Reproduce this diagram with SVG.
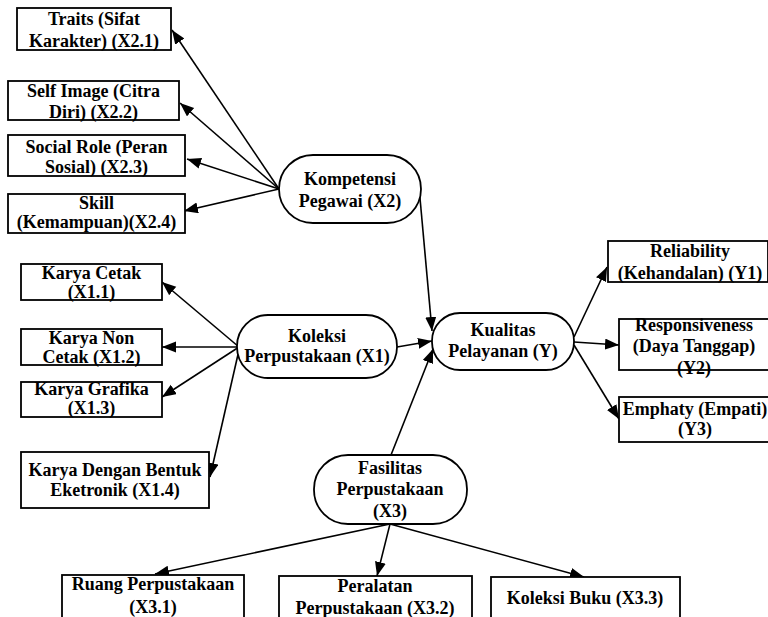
<svg xmlns="http://www.w3.org/2000/svg" width="768" height="617" viewBox="0 0 768 617">
  <defs>
    <marker id="arrow" markerUnits="userSpaceOnUse" markerWidth="15" markerHeight="12" refX="14" refY="5.5" orient="auto">
      <path d="M0,0 L14,5.5 L0,11 z" fill="#000"/>
    </marker>
    <style>
      .box { fill: #fff; stroke: #000; stroke-width: 1.8; }
      .lbl { font-family: "Liberation Serif", "Times New Roman", serif; font-weight: bold; font-size: 18px; fill: #000; text-anchor: middle; }
      .edge { stroke: #000; stroke-width: 1.6; fill: none; marker-end: url(#arrow); }
    </style>
  </defs>
  <rect width="768" height="617" fill="#fff"/>

  <g id="connectors">
    <!-- Kompetensi Pegawai (X2) indicators -->
    <line class="edge" x1="279" y1="189" x2="172" y2="30"/>
    <line class="edge" x1="279" y1="189" x2="180" y2="103"/>
    <line class="edge" x1="279" y1="189" x2="187" y2="159"/>
    <line class="edge" x1="279" y1="189" x2="184" y2="211"/>
    <!-- Koleksi Perpustakaan (X1) indicators -->
    <line class="edge" x1="239" y1="347" x2="162" y2="282"/>
    <line class="edge" x1="239" y1="347" x2="162" y2="347"/>
    <line class="edge" x1="239" y1="347" x2="162" y2="397"/>
    <line class="edge" x1="239" y1="350" x2="210" y2="477"/>
    <!-- paths into Kualitas Pelayanan (Y) -->
    <line class="edge" x1="419" y1="187" x2="432" y2="331"/>
    <line class="edge" x1="397" y1="347" x2="432" y2="341"/>
    <line class="edge" x1="391" y1="455" x2="433" y2="349"/>
    <!-- Kualitas Pelayanan (Y) indicators -->
    <line class="edge" x1="574" y1="337" x2="607" y2="267"/>
    <line class="edge" x1="574" y1="342" x2="619" y2="345"/>
    <line class="edge" x1="574" y1="345" x2="619" y2="419"/>
    <!-- Fasilitas Perpustakaan (X3) indicators -->
    <line class="edge" x1="390" y1="524" x2="155" y2="574"/>
    <line class="edge" x1="390" y1="524" x2="377" y2="576"/>
    <line class="edge" x1="390" y1="524" x2="584" y2="577"/>
  </g>

  <g id="x2-1">
    <rect class="box" x="17" y="8" width="154" height="42"/>
    <text class="lbl" x="94" y="25">Traits (Sifat</text>
    <text class="lbl" x="94" y="47">Karakter) (X2.1)</text>
  </g>
  <g id="x2-2">
    <rect class="box" x="8" y="81" width="171" height="39"/>
    <text class="lbl" x="93.5" y="97">Self Image (Citra</text>
    <text class="lbl" x="93.5" y="118">Diri) (X2.2)</text>
  </g>
  <g id="x2-3">
    <rect class="box" x="8" y="135" width="177" height="41"/>
    <text class="lbl" x="96.5" y="153">Social Role (Peran</text>
    <text class="lbl" x="96.5" y="173">Sosial) (X2.3)</text>
  </g>
  <g id="x2-4">
    <rect class="box" x="8" y="194" width="177" height="39"/>
    <text class="lbl" x="96.5" y="209">Skill</text>
    <text class="lbl" x="96.5" y="228">(Kemampuan)(X2.4)</text>
  </g>

  <g id="x1-1">
    <rect class="box" x="21" y="264" width="141" height="36"/>
    <text class="lbl" x="91.5" y="279">Karya Cetak</text>
    <text class="lbl" x="91.5" y="298">(X1.1)</text>
  </g>
  <g id="x1-2">
    <rect class="box" x="21" y="329" width="141" height="36"/>
    <text class="lbl" x="91.5" y="344">Karya Non</text>
    <text class="lbl" x="91.5" y="363">Cetak (X1.2)</text>
  </g>
  <g id="x1-3">
    <rect class="box" x="21" y="382" width="141" height="35"/>
    <text class="lbl" x="91.5" y="395">Karya Grafika</text>
    <text class="lbl" x="91.5" y="414">(X1.3)</text>
  </g>
  <g id="x1-4">
    <rect class="box" x="21" y="452" width="188" height="56"/>
    <text class="lbl" x="115" y="476">Karya Dengan Bentuk</text>
    <text class="lbl" x="115" y="496">Eketronik (X1.4)</text>
  </g>

  <g id="x2">
    <rect class="box" x="279" y="155" width="142" height="68" rx="34" ry="34"/>
    <text class="lbl" x="350" y="185">Kompetensi</text>
    <text class="lbl" x="350" y="207">Pegawai (X2)</text>
  </g>
  <g id="x1">
    <rect class="box" x="237" y="315" width="160" height="63" rx="31" ry="31"/>
    <text class="lbl" x="317" y="342">Koleksi</text>
    <text class="lbl" x="317" y="362">Perpustakaan (X1)</text>
  </g>
  <g id="y">
    <rect class="box" x="432" y="313" width="142" height="57" rx="28" ry="28"/>
    <text class="lbl" x="503" y="336">Kualitas</text>
    <text class="lbl" x="503" y="357">Pelayanan (Y)</text>
  </g>
  <g id="x3">
    <rect class="box" x="314" y="455" width="153" height="69" rx="34" ry="34"/>
    <text class="lbl" x="390" y="474">Fasilitas</text>
    <text class="lbl" x="390" y="495">Perpustakaan</text>
    <text class="lbl" x="390" y="517">(X3)</text>
  </g>

  <g id="y1">
    <rect class="box" x="608" y="241" width="160" height="41"/>
    <text class="lbl" x="690" y="257">Reliability</text>
    <text class="lbl" x="690" y="279">(Kehandalan) (Y1)</text>
  </g>
  <g id="y2">
    <rect class="box" x="619" y="319" width="150" height="51"/>
    <text class="lbl" x="694" y="331">Responsiveness</text>
    <text class="lbl" x="694" y="352">(Daya Tanggap)</text>
    <text class="lbl" x="694" y="374">(Y2)</text>
  </g>
  <g id="y3">
    <rect class="box" x="619" y="397" width="150" height="45"/>
    <text class="lbl" x="695" y="415">Emphaty (Empati)</text>
    <text class="lbl" x="695" y="435">(Y3)</text>
  </g>

  <g id="x3-1">
    <rect class="box" x="62" y="575" width="182" height="50"/>
    <text class="lbl" x="153" y="590">Ruang Perpustakaan</text>
    <text class="lbl" x="153" y="613">(X3.1)</text>
  </g>
  <g id="x3-2">
    <rect class="box" x="279" y="576" width="193" height="50"/>
    <text class="lbl" x="375" y="592">Peralatan</text>
    <text class="lbl" x="375" y="614">Perpustakaan (X3.2)</text>
  </g>
  <g id="x3-3">
    <rect class="box" x="491" y="577" width="189" height="50"/>
    <text class="lbl" x="585" y="604">Koleksi Buku (X3.3)</text>
  </g>
</svg>
